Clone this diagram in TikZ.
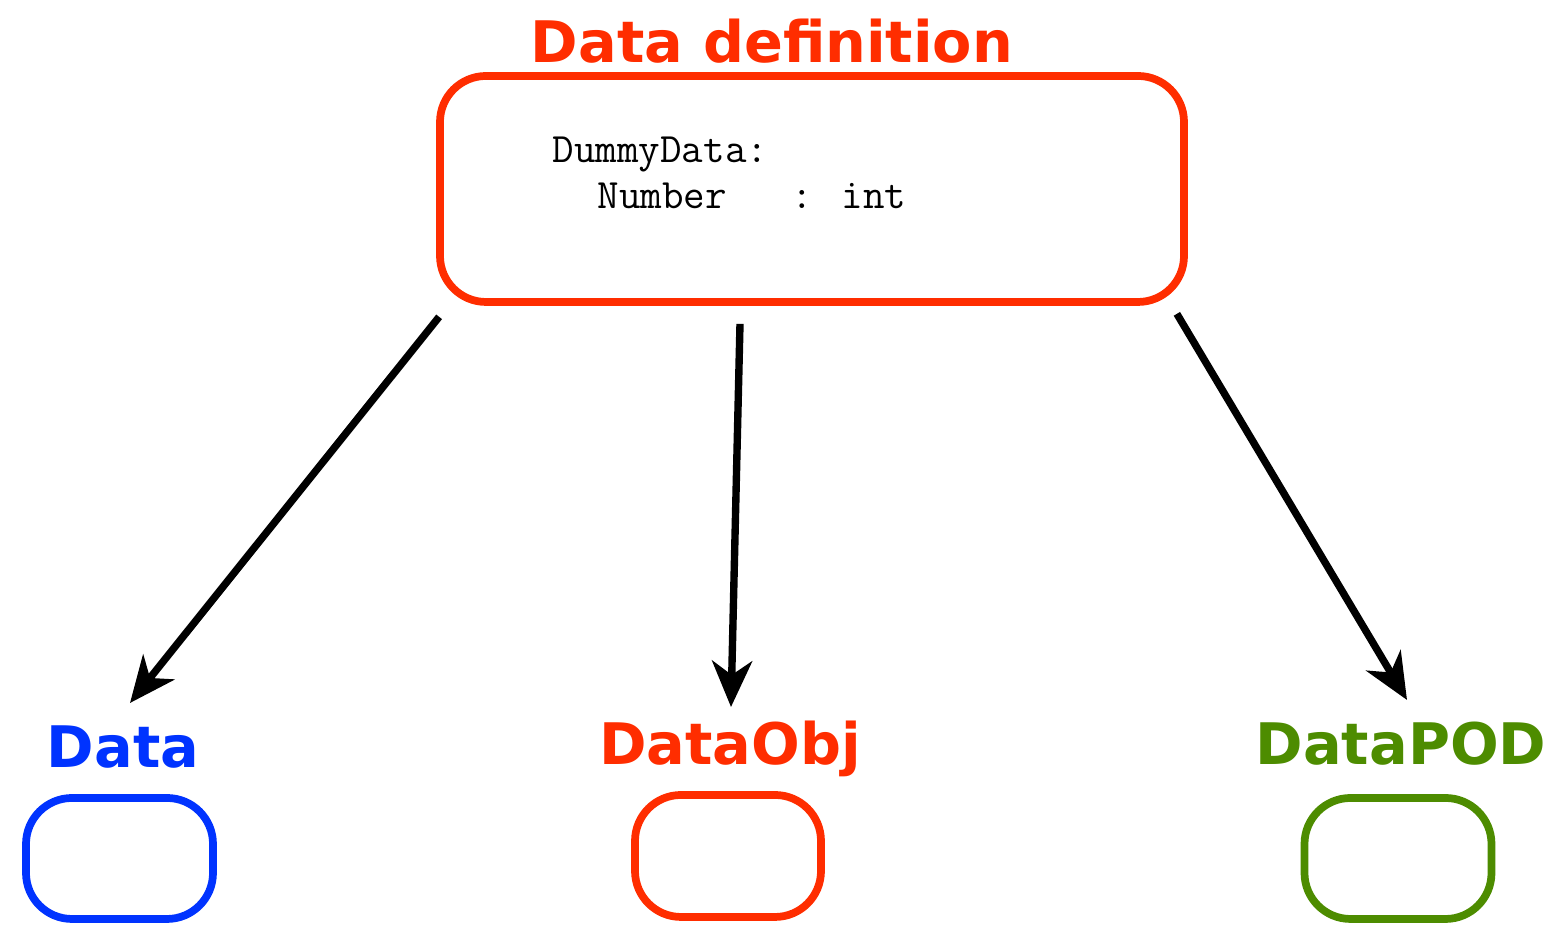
\documentclass[tikz,border=0pt]{standalone}
\usepackage{fontspec}
\setmainfont{DejaVu Sans}
\usetikzlibrary{arrows.meta}
\definecolor{defred}{RGB}{255,45,0}
\definecolor{datablue}{RGB}{0,51,255}
\definecolor{podgreen}{RGB}{77,140,0}

\begin{document}
\begin{tikzpicture}[
    box/.style={draw,line width=2.2pt,rounded corners=0.46cm,inner sep=0pt},
    title/.style={font=\fontsize{16.3}{18}\selectfont\bfseries,anchor=base,inner sep=0pt},
    code/.style={font=\fontsize{11.9}{14}\selectfont\ttfamily,anchor=base west,inner sep=0pt},
    arr/.style={-{Stealth[length=4.6mm,width=4mm,inset=1.4mm]},line width=2.1pt}
  ]
    \useasboundingbox (0,0) rectangle (15.61,9.25);
    %\draw[very thin,color=gray] (0,0) grid (15.61,9.25);

    % data definition
    \node[title,defred] (deftitle) at (7.72,8.62) {Data definition};
    \node[box,defred,minimum width=7.44cm,minimum height=2.26cm] (defbox) at (8.12,7.36) {};
    \node[code] (defname) at (5.52,7.62) {DummyData:};
    \node[code] (deffield) at (5.97,7.16) {Number\ \ \ : int};

    % the three kinds
    \node[title,datablue] (data) at (1.23,1.57) {Data};
    \node[title,defred] (dataobj) at (7.30,1.60) {DataObj};
    \node[title,podgreen] (datapod) at (14.01,1.60) {DataPOD};
    \node[box,datablue,minimum width=1.87cm,minimum height=1.21cm] (databox) at (1.195,0.665) {};
    \node[box,defred,minimum width=1.86cm,minimum height=1.22cm] (dataobjbox) at (7.28,0.69) {};
    \node[box,podgreen,minimum width=1.87cm,minimum height=1.21cm] (datapodbox) at (13.98,0.665) {};

    \coordinate (toData) at (1.30,2.22);
    \coordinate (toObj) at (7.31,2.18);
    \coordinate (toPOD) at (14.07,2.25);
    \draw[arr] ([xshift=0.3mm,yshift=-1.1mm]defbox.south west) -- (toData);
    \draw[arr] ([xshift=-0.72cm,yshift=-1.8mm]defbox.south) -- (toObj);
    \draw[arr] ([xshift=-1.1mm,yshift=-0.8mm]defbox.south east) -- (toPOD);
\end{tikzpicture}
\end{document}
